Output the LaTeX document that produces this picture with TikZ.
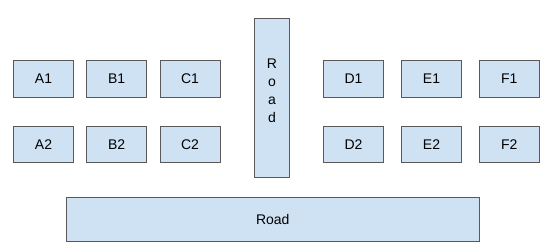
\documentclass[tikz,border=0pt]{standalone}
\usepackage{fontspec}
\setmainfont{Liberation Sans}
\definecolor{boxfill}{HTML}{CFE2F3}
\definecolor{boxline}{HTML}{595959}
\begin{document}
\begin{tikzpicture}[x=1pt,y=-1pt,
  lot/.style={draw=boxline, fill=boxfill, line width=0.9pt, minimum width=60pt, minimum height=36.5pt, inner sep=0pt, font=\fontsize{14}{16}\selectfont},
  road/.style={draw=boxline, fill=boxfill, line width=0.9pt, inner sep=0pt, font=\fontsize{14}{16}\selectfont}]
\useasboundingbox (0,0) rectangle (552,251);
\fill[white] (0,0) rectangle (552,251);
\node[lot] (A1) at (43.5,79) {A1};
\node[lot] (B1) at (116.7,79) {B1};
\node[lot] (C1) at (190,79) {C1};
\node[lot] (A2) at (43.5,144.3) {A2};
\node[lot] (B2) at (116.7,144.3) {B2};
\node[lot] (C2) at (190,144.3) {C2};
\node[lot] (D1) at (353.5,79) {D1};
\node[lot] (E1) at (431.5,79) {E1};
\node[lot] (F1) at (509.3,79) {F1};
\node[lot] (D2) at (353.5,144.3) {D2};
\node[lot] (E2) at (431.5,144.3) {E2};
\node[lot] (F2) at (509.3,144.3) {F2};
\node[road, minimum width=35.4pt, minimum height=158.7pt] (roadV) at (272,98.3) {};
\node[font=\fontsize{14}{18}\selectfont, align=center, inner sep=0pt, anchor=center] (roadVtext) at (272,91) {R\\o\\a\\d};
\node[road, minimum width=413.7pt, minimum height=43.3pt] (roadH) at (272.8,219.3) {Road};
\end{tikzpicture}
\end{document}
